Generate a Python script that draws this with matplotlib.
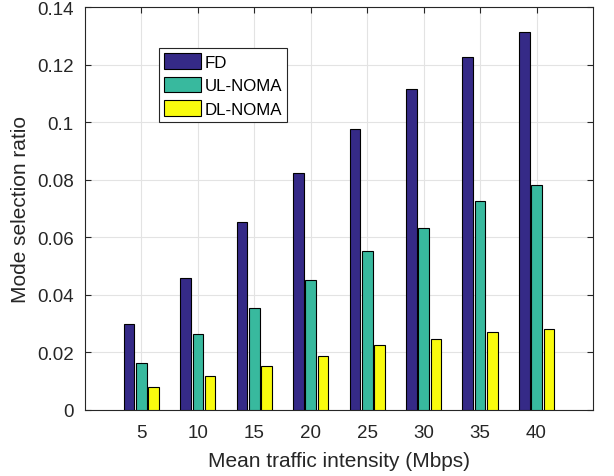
import numpy as np
import matplotlib
matplotlib.use("Agg")
import matplotlib.pyplot as plt

plt.rcParams['font.family'] = ['Liberation Sans', 'DejaVu Sans']

traffic = [5, 10, 15, 20, 25, 30, 35, 40]
fd = [0.0300, 0.0460, 0.0653, 0.0823, 0.0976, 0.1114, 0.1226, 0.1312]
ul_noma = [0.0162, 0.0263, 0.0353, 0.0450, 0.0554, 0.0632, 0.0726, 0.0781]
dl_noma = [0.0080, 0.0117, 0.0152, 0.0189, 0.0225, 0.0247, 0.0271, 0.0280]
series = [('FD', fd, '#352a87'), ('UL-NOMA', ul_noma, '#38b99e'), ('DL-NOMA', dl_noma, '#f9fb0e')]

fig = plt.figure(figsize=(6.14, 4.77), dpi=100)
ax = fig.add_axes([0.1384, 0.1384, 0.8274, 0.8448])

x = np.array(traffic, dtype=float)
w = 0.94
step = 1.09
for i, (name, vals, col) in enumerate(series):
    ax.bar(x + (i - 1) * step, vals, width=w, color=col, edgecolor='black',
           linewidth=0.8, label=name, zorder=3)

ax.set_xlim(0, 45)
ax.set_ylim(0, 0.14)
ax.set_xticks(traffic)
ax.set_yticks(np.arange(0, 0.141, 0.02))
ax.set_yticklabels(['0', '0.02', '0.04', '0.06', '0.08', '0.1', '0.12', '0.14'])
ax.grid(True, color='#e3e3e3', linewidth=0.8, zorder=0)
ax.set_axisbelow(True)
ax.tick_params(direction='in', top=True, right=True, labelsize=13.5, colors='#262626', length=4, pad=8)
ax.tick_params(axis='x', pad=10)
for s in ax.spines.values():
    s.set_color('#262626')
    s.set_linewidth(0.8)

ax.set_xlabel('Mean traffic intensity (Mbps)', fontsize=15, color='#262626', labelpad=7)
ax.set_ylabel('Mode selection ratio', fontsize=15, color='#262626', labelpad=5)

leg = ax.legend(loc='upper left', bbox_to_anchor=(0.1457, 0.898), borderaxespad=0,
                fontsize=12.2, fancybox=False, edgecolor='#262626', framealpha=1,
                handlelength=2.2, handleheight=1.06, labelspacing=0.4,
                handletextpad=0.18, borderpad=0.3)
leg.get_frame().set_linewidth(0.8)

fig.savefig('out.png', dpi=100)
